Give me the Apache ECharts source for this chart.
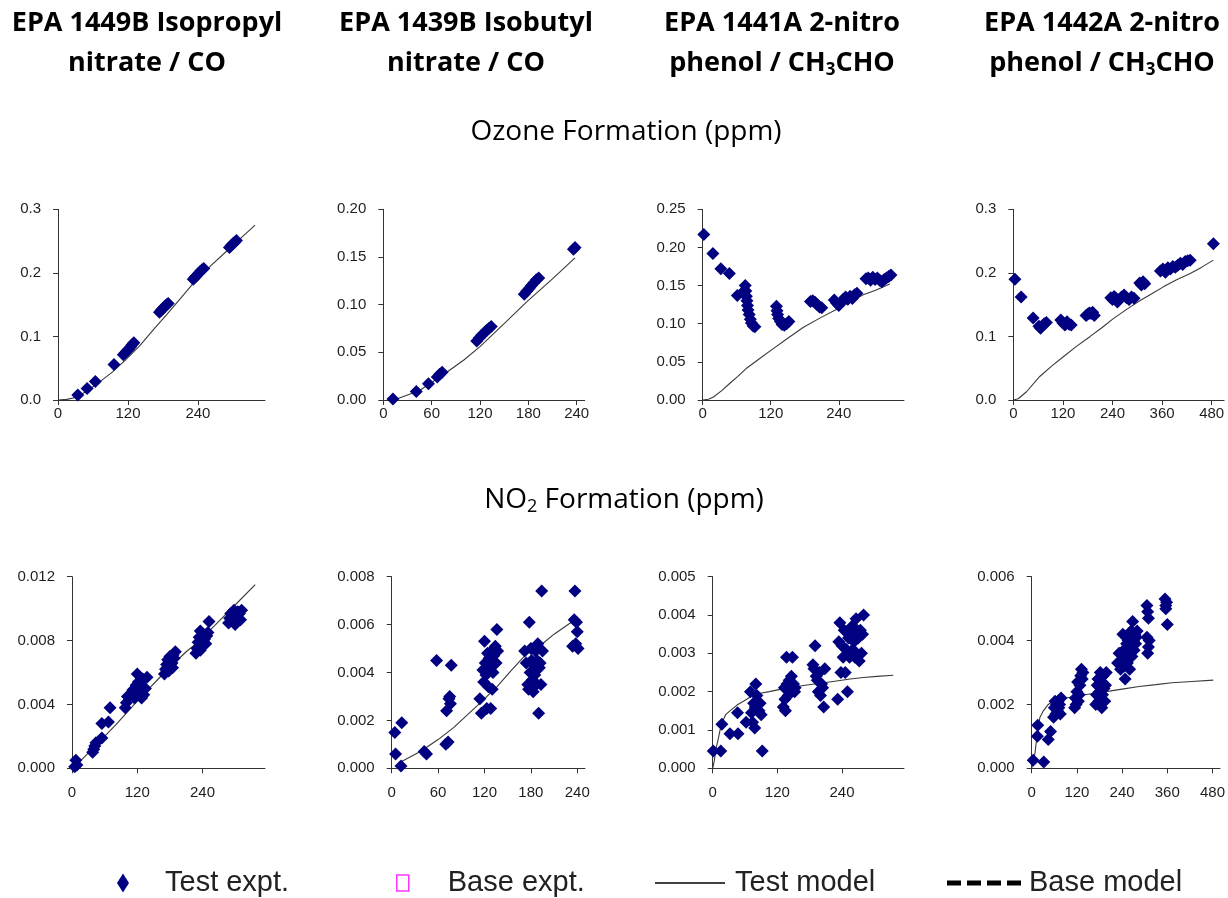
<!DOCTYPE html>
<html>
<head>
<meta charset="utf-8">
<script src="https://cdn.jsdelivr.net/npm/echarts@6/dist/echarts.min.js"></script>
<style>
  html, body { margin: 0; padding: 0; background: #ffffff; }
  #chart { width: 1228px; height: 898px; }
</style>
</head>
<body>
<div id="chart"></div>
<script>
// ---- Panel headings (one per experiment column) ----
const panelHeadings = [
  ['EPA 1449B Isopropyl', 'nitrate / CO'],
  ['EPA 1439B Isobutyl', 'nitrate / CO'],
  ['EPA 1441A 2-nitro', 'phenol / CH{3}CHO'],
  ['EPA 1442A 2-nitro', 'phenol / CH{3}CHO']
];
const seriesNames = ['Test expt.', 'Base expt.', 'Test model', 'Base model'];

// ---- Axis scales (x: minutes, y: ppm) ----
const xMaxOzone = [355, 250, 355, 510];
const xMaxNo2 = [355, 250, 355, 500];
const xTickValues = [
  [0, 120, 240],
  [0, 60, 120, 180, 240],
  [0, 120, 240],
  [0, 120, 240, 360, 480]
];
const yMaxOzone = [0.3, 0.2, 0.25, 0.3];
const yStepOzone = [0.1, 0.05, 0.05, 0.1];
const yDecimalsOzone = [1, 2, 2, 1];
const yMaxNo2 = [0.012, 0.008, 0.005, 0.006];
const yStepNo2 = [0.004, 0.002, 0.001, 0.002];
const yDecimalsNo2 = [3, 3, 3, 3];

// ---- Ozone: experiment points [time, ppm] ----
const o3Run1449BExpt = [[34,0.008],[50,0.018],[64,0.029],[96,0.056],
  [112,0.071],[115,0.074],[118,0.077],[121,0.080],[124,0.083],[127,0.087],[130,0.090],
  [174,0.138],[177,0.141],[180,0.144],[183,0.147],[186,0.150],[189,0.152],
  [232,0.190],[235,0.193],[238,0.196],[241,0.199],[244,0.202],[247,0.205],[250,0.207],
  [294,0.240],[297,0.243],[300,0.246],[303,0.248],[306,0.251]];
const o3Run1439BExpt = [[12,0.001],[41,0.009],[56,0.017],[67,0.024],[70,0.027],[73,0.029],
  [116,0.062],[119,0.065],[122,0.068],[125,0.070],[128,0.073],[131,0.075],[134,0.077],
  [175,0.111],[178,0.114],[181,0.117],[184,0.120],[187,0.123],[190,0.126],[193,0.128],
  [236,0.158],[238,0.160]];
const o3Run1441AExpt = [[2,0.217],[18,0.192],[32,0.172],[47,0.166],[61,0.137],[70,0.141],
  [75,0.150],[76,0.143],[77,0.136],[78,0.130],[79,0.124],[80,0.118],[82,0.112],[84,0.106],[86,0.101],[89,0.097],[92,0.096],
  [130,0.123],[131,0.117],[132,0.112],[134,0.107],[137,0.103],[140,0.099],[144,0.098],[148,0.100],[152,0.103],
  [190,0.129],[194,0.130],[198,0.128],[202,0.125],[206,0.122],[210,0.121],
  [232,0.131],[236,0.127],[240,0.124],[244,0.128],[248,0.132],[252,0.135],[256,0.132],[260,0.136],[264,0.133],[268,0.138],[272,0.140],
  [288,0.159],[292,0.160],[296,0.157],[300,0.161],[304,0.158],[308,0.160],[312,0.157],[316,0.155],[320,0.158],[324,0.160],[328,0.162],[332,0.164]];
const o3Run1442AExpt = [[4,0.190],[19,0.162],[48,0.129],[62,0.116],[66,0.113],[70,0.117],[75,0.120],[80,0.122],
  [115,0.126],[120,0.121],[125,0.118],[130,0.123],[135,0.119],[140,0.118],
  [176,0.133],[180,0.135],[184,0.137],[188,0.136],[192,0.138],[196,0.133],
  [236,0.161],[240,0.158],[244,0.163],[248,0.160],[252,0.154],[256,0.158],[262,0.162],[268,0.165],[274,0.161],[280,0.158],[286,0.162],[292,0.160],
  [306,0.184],[310,0.181],[314,0.186],[318,0.183],
  [356,0.203],[362,0.206],[368,0.201],[374,0.208],[380,0.206],[386,0.210],[392,0.209],[398,0.212],[404,0.215],[410,0.213],[416,0.218],[422,0.219],[428,0.220],
  [484,0.246]];

// ---- Ozone: model curves ----
const o3Run1449BModel = [[0,0],[15,0.001],[30,0.004],[50,0.014],[72,0.029],[92,0.043],[116,0.063],[140,0.085],[163,0.110],[186,0.134],[212,0.162],[238,0.190],[264,0.213],[289,0.234],[314,0.255],[338,0.275]];
const o3Run1439BModel = [[8,0],[20,0.002],[45,0.010],[77,0.028],[100,0.042],[120,0.056],[150,0.080],[178,0.103],[210,0.127],[238,0.149]];
const o3Run1441AModel = [[0,0],[10,0.001],[19,0.004],[33,0.012],[48,0.022],[62,0.031],[78,0.042],[100,0.054],[122,0.066],[150,0.081],[177,0.095],[208,0.108],[239,0.120],[262,0.129],[283,0.138],[305,0.144],[330,0.152]];
const o3Run1442AModel = [[0,0],[12,0.002],[32,0.013],[64,0.037],[92,0.053],[121,0.068],[152,0.084],[186,0.100],[215,0.114],[242,0.128],[275,0.143],[306,0.156],[335,0.167],[363,0.178],[395,0.189],[428,0.199],[456,0.209],[484,0.220]];

// ---- NO2: experiment points ----
const no2Run1449BExpt = [[5,0.0001],[7,0.0005],[9,0.0002],
  [38,0.0010],[40,0.0012],[42,0.0014],[44,0.0016],[55,0.0019],[55,0.0028],[67,0.0029],[70,0.0038],
  [98,0.0038],[100,0.0041],[102,0.0045],[108,0.0046],[112,0.0049],[115,0.0044],[118,0.0052],[120,0.0059],[122,0.0054],[125,0.0048],[128,0.0051],[130,0.0056],[132,0.0046],[135,0.0050],[138,0.0057],[128,0.0044],
  [170,0.0059],[172,0.0062],[174,0.0065],[176,0.0068],[178,0.0064],[180,0.0070],[182,0.0067],[184,0.0066],[186,0.0071],[188,0.0069],[190,0.0073],[178,0.0061],[185,0.0063],
  [228,0.0072],[230,0.0075],[232,0.0079],[234,0.0082],[236,0.0086],[238,0.0080],[240,0.0077],[242,0.0084],[244,0.0081],[246,0.0078],[248,0.0083],[250,0.0085],[252,0.0092],[236,0.0074],
  [288,0.0091],[290,0.0094],[292,0.0097],[295,0.0093],[298,0.0099],[300,0.0095],[302,0.0092],[305,0.0098],[308,0.0097],[310,0.0093],[312,0.0099],[300,0.0090]];
const no2Run1439BExpt = [[4,0.0015],[5,0.0006],[13,0.0019],[12,0.0001],[42,0.0007],[45,0.0006],[58,0.0045],
  [70,0.0010],[73,0.0011],[71,0.0024],[74,0.0029],[76,0.0027],[75,0.0030],[77,0.0043],
  [114,0.0029],[116,0.0023],[118,0.0041],[119,0.0036],[120,0.0053],[121,0.0044],[122,0.0039],[123,0.0025],[124,0.0048],[125,0.0034],[126,0.0046],[127,0.0042],[128,0.0025],[129,0.0049],[130,0.0033],[131,0.0040],[132,0.0047],[134,0.0051],[135,0.0044],[136,0.0058],[137,0.0049],
  [172,0.0049],[174,0.0044],[176,0.0035],[177,0.0033],[178,0.0061],[179,0.0040],[180,0.0050],[181,0.0045],[182,0.0037],[183,0.0032],[184,0.0043],[185,0.0039],[186,0.0049],[187,0.0035],[188,0.0045],[189,0.0052],[190,0.0023],[191,0.0042],[192,0.0044],[193,0.0035],[194,0.0074],[195,0.0049],
  [234,0.0051],[236,0.0062],[237,0.0074],[238,0.0052],[239,0.0061],[240,0.0057],[241,0.0050]];
const no2Run1441AExpt = [[1,0.00045],[15,0.00045],[17,0.00115],[32,0.0009],[46,0.00145],[47,0.0009],[62,0.0012],[70,0.0020],
  [72,0.00145],[74,0.0012],[76,0.0017],[78,0.00105],[79,0.0016],[80,0.0022],[82,0.0019],[84,0.00165],[86,0.0015],[88,0.0017],[90,0.0014],[92,0.00045],
  [131,0.0016],[133,0.0021],[134,0.0018],[135,0.0015],[137,0.0029],[138,0.0022],[140,0.0019],[142,0.0023],[144,0.0021],[146,0.0024],[148,0.0029],[150,0.0022],[152,0.0020],[153,0.0021],
  [186,0.0027],[188,0.0026],[190,0.0032],[192,0.0024],[194,0.0023],[196,0.0020],[198,0.0025],[200,0.0019],[202,0.0022],[204,0.0021],[206,0.0016],[208,0.0026],
  [232,0.0018],[234,0.0033],[236,0.0038],[238,0.0025],[240,0.0032],[242,0.0029],[244,0.0036],[246,0.0025],[248,0.0031],[250,0.0020],[252,0.0034],[254,0.0029],[256,0.0035],[258,0.0037],[260,0.0031],[262,0.0033],[264,0.0029],[266,0.0039],[268,0.0036],[270,0.0034],[272,0.0028],[274,0.0036],[276,0.0030],[278,0.0035],[280,0.0040]];
const no2Run1442AExpt = [[4,0.00025],[15,0.0010],[16,0.00135],[32,0.0002],[44,0.0009],[50,0.00115],
  [58,0.0016],[60,0.0019],[62,0.0021],[64,0.0017],[66,0.0020],[68,0.0018],[70,0.0021],[72,0.0019],[74,0.0020],[76,0.0017],[78,0.0022],
  [114,0.0019],[116,0.0022],[118,0.0020],[120,0.0024],[122,0.0027],[124,0.0021],[126,0.0023],[128,0.0026],[130,0.0029],[132,0.0031],[134,0.0028],[136,0.0030],
  [170,0.0020],[172,0.0023],[174,0.0026],[176,0.0028],[178,0.0021],[180,0.0024],[182,0.0030],[184,0.0027],[186,0.0019],[188,0.0023],[190,0.0029],[192,0.0025],[194,0.0021],[196,0.0026],[198,0.0030],
  [228,0.0033],[232,0.0036],[236,0.0031],[240,0.0034],[242,0.0042],[244,0.0037],[246,0.0032],[248,0.0028],[250,0.0035],[252,0.0039],[254,0.0033],[256,0.0040],[258,0.0036],[260,0.0031],[262,0.0038],[264,0.0043],[266,0.0035],[268,0.0046],[270,0.0040],[272,0.0037],[274,0.0042],[276,0.0039],[278,0.0041],[280,0.0043],
  [306,0.0051],[308,0.0049],[310,0.0047],[306,0.0041],[310,0.0038],[308,0.0036],[312,0.0040],
  [354,0.0053],[356,0.0051],[358,0.0052],[356,0.0050],[360,0.0045]];

// ---- NO2: model curves ----
const no2Run1449BModel = [[5,0.0001],[40,0.0013],[80,0.0027],[125,0.0044],[170,0.0060],[210,0.0073],[235,0.0080],[270,0.0092],[305,0.0104],[337,0.0115]];
const no2Run1439BModel = [[8,0.0002],[37,0.0007],[60,0.0012],[80,0.0017],[110,0.0026],[136,0.0034],[155,0.0041],[175,0.0048],[195,0.0052],[210,0.0056],[237,0.0062]];
const no2Run1441AModel = [[0,0],[3,0.0002],[6,0.0005],[10,0.00075],[16,0.00115],[24,0.0014],[32,0.0015],[45,0.00165],[57,0.00175],[72,0.00188],[88,0.00196],[105,0.0020],[125,0.00206],[145,0.0021],[168,0.00216],[200,0.00222],[230,0.00228],[255,0.00233],[280,0.00237],[305,0.0024],[335,0.00243]];
const no2Run1442AModel = [[0,0],[4,0.0002],[9,0.0005],[13,0.0009],[17,0.0013],[22,0.0016],[31,0.0018],[44,0.0020],[57,0.0021],[80,0.00218],[110,0.00224],[150,0.00232],[197,0.0024],[240,0.00248],[285,0.00256],[330,0.00262],[372,0.00268],[425,0.00272],[482,0.00276]];

const ozoneExpt = [o3Run1449BExpt, o3Run1439BExpt, o3Run1441AExpt, o3Run1442AExpt];
const ozoneModel = [o3Run1449BModel, o3Run1439BModel, o3Run1441AModel, o3Run1442AModel];
const no2Expt = [no2Run1449BExpt, no2Run1439BExpt, no2Run1441AExpt, no2Run1442AExpt];
const no2Model = [no2Run1449BModel, no2Run1439BModel, no2Run1441AModel, no2Run1442AModel];

// ---- Layout ----
const headingFont = '"Open Sans", "Noto Sans", sans-serif';
const axisFont = '"Liberation Sans", Arial, sans-serif';
const headingCenters = [147, 466, 782, 1102];
const ozoneRects = [[58, 209.3, 207, 190.7], [383.3, 209.3, 201.4, 190.7], [702.7, 209.3, 201.3, 190.7], [1013.3, 209.3, 210.8, 190.7]];
const no2Rects = [[72, 576.7, 193, 191.6], [391.7, 576.7, 193.3, 191.6], [712.7, 576.7, 191.3, 191.6], [1031.7, 576.7, 190, 191.6]];

const AXIS_COLOR = '#333333';
const LABEL_COLOR = '#1e1e1e';
const EXPT_COLOR = '#000080';

const grids = [], xAxes = [], yAxes = [], series = [];

function addPanel(rect, xMax, ticks, yMax, yStep, dec, xLabelMargin, expt, model) {
  const idx = grids.length;
  grids.push({ left: rect[0], top: rect[1], width: rect[2], height: rect[3], containLabel: false });
  xAxes.push({
    type: 'value', gridIndex: idx, min: 0, max: xMax, interval: ticks[1] - ticks[0],
    axisLine: { show: true, onZero: false, lineStyle: { color: AXIS_COLOR, width: 1 } },
    axisTick: { show: true, inside: false, length: 5, customValues: ticks, lineStyle: { color: AXIS_COLOR } },
    axisLabel: { customValues: ticks, margin: xLabelMargin, color: LABEL_COLOR, fontSize: 15, fontFamily: axisFont },
    splitLine: { show: false }
  });
  yAxes.push({
    type: 'value', gridIndex: idx, min: 0, max: yMax, interval: yStep,
    axisLine: { show: true, onZero: false, lineStyle: { color: AXIS_COLOR, width: 1 } },
    axisTick: { show: true, inside: false, length: 5, lineStyle: { color: AXIS_COLOR } },
    axisLabel: { margin: 17, color: LABEL_COLOR, fontSize: 15, fontFamily: axisFont,
      formatter: v => v.toFixed(dec) },
    splitLine: { show: false }
  });
  series.push({
    type: 'line', name: seriesNames[2], xAxisIndex: idx, yAxisIndex: idx, data: model,
    symbol: 'none', showSymbol: false, z: 1, silent: true,
    lineStyle: { color: '#3a3a3a', width: 1.1 }, itemStyle: { color: '#000000' }
  });
  series.push({
    type: 'scatter', name: seriesNames[0], xAxisIndex: idx, yAxisIndex: idx, data: expt,
    symbol: 'diamond', symbolSize: [13, 13], z: 2, silent: true,
    itemStyle: { color: EXPT_COLOR, opacity: 1 }
  });
}

for (let i = 0; i < 4; i++) {
  addPanel(ozoneRects[i], xMaxOzone[i], xTickValues[i], yMaxOzone[i], yStepOzone[i], yDecimalsOzone[i], 6, ozoneExpt[i], ozoneModel[i]);
}
for (let i = 0; i < 4; i++) {
  addPanel(no2Rects[i], xMaxNo2[i], xTickValues[i], yMaxNo2[i], yStepNo2[i], yDecimalsNo2[i], 17, no2Expt[i], no2Model[i]);
}

// Base-case entries (shown in the legend only)
series.push({
  type: 'scatter', name: seriesNames[1], xAxisIndex: 0, yAxisIndex: 0, data: [],
  symbol: 'rect', itemStyle: { color: '#ffffff', borderColor: '#ff00ff', borderWidth: 1.5 }
});
series.push({
  type: 'line', name: seriesNames[3], xAxisIndex: 0, yAxisIndex: 0, data: [],
  symbol: 'none', lineStyle: { color: '#000000', width: 5, type: [13, 7] }, itemStyle: { color: '#000000' }
});

// Headings
const boldRich = {
  b: { fontSize: 27, fontWeight: 'bold', fontFamily: headingFont, color: '#000', lineHeight: 32 },
  s: { fontSize: 17, fontWeight: 'bold', fontFamily: headingFont, color: '#000', lineHeight: 17, verticalAlign: 'bottom' }
};
const plainRich = {
  r: { fontSize: 28, fontFamily: headingFont, color: '#000', lineHeight: 32 },
  s: { fontSize: 18, fontFamily: headingFont, color: '#000', lineHeight: 17, verticalAlign: 'bottom' }
};
function richLine(str, main) {
  return str.split(/\{(\d)\}/).map((part, k) =>
    part === '' ? '' : (k % 2 ? '{s|' + part + '}' : '{' + main + '|' + part + '}')).join('');
}
const graphics = [];
panelHeadings.forEach((lines, i) => {
  lines.forEach((line, j) => {
    graphics.push({
      type: 'text', x: headingCenters[i], y: 23 + j * 40, silent: true,
      style: { text: richLine(line, 'b'), rich: boldRich, align: 'center', verticalAlign: 'middle',
        textAlign: 'center', textVerticalAlign: 'middle' }
    });
  });
});
graphics.push({
  type: 'text', x: 626, y: 132, silent: true,
  style: { text: richLine('Ozone Formation (ppm)', 'r'), rich: plainRich, align: 'center', verticalAlign: 'middle',
    textAlign: 'center', textVerticalAlign: 'middle' }
});
graphics.push({
  type: 'text', x: 624, y: 500, silent: true,
  style: { text: richLine('NO{2} Formation (ppm)', 'r'), rich: plainRich, align: 'center', verticalAlign: 'middle',
    textAlign: 'center', textVerticalAlign: 'middle' }
});

// Legend: one component per entry so each sits at its own place
const legendText = { fontFamily: axisFont, fontSize: 29, color: '#222222' };
const legendTop = 868.5;
const legends = [
  { data: [{ name: seriesNames[0], icon: 'diamond' }], left: 117, itemWidth: 12, itemHeight: 19, pad: 31 },
  { data: [{ name: seriesNames[1], icon: 'rect', itemStyle: { color: '#ffffff', borderColor: '#ff00ff', borderWidth: 1.5 } }],
    left: 396, itemWidth: 12, itemHeight: 16, pad: 34 },
  { data: [{ name: seriesNames[2], icon: 'rect', itemStyle: { color: '#000000' } }], left: 655, itemWidth: 70, itemHeight: 1.5, pad: 5 },
  { data: [{ name: seriesNames[3], icon: 'path://M0,0h14v5h-14z M20,0h14v5h-14z M40,0h14v5h-14z M60,0h14v5h-14z', itemStyle: { color: '#000000' } }],
    left: 947, itemWidth: 80, itemHeight: 5, pad: 0 }
].map(l => ({
  data: l.data, left: l.left, top: legendTop, itemWidth: l.itemWidth, itemHeight: l.itemHeight,
  padding: 0, selectedMode: false, orient: 'horizontal',
  textStyle: Object.assign({ padding: [0, 0, 0, l.pad] }, legendText)
}));

const chart = echarts.init(document.getElementById('chart'), null, { renderer: 'canvas' });
chart.setOption({
  backgroundColor: '#ffffff',
  animation: false,
  grid: grids,
  xAxis: xAxes,
  yAxis: yAxes,
  series: series,
  legend: legends,
  graphic: graphics
});
</script>
</body>
</html>
